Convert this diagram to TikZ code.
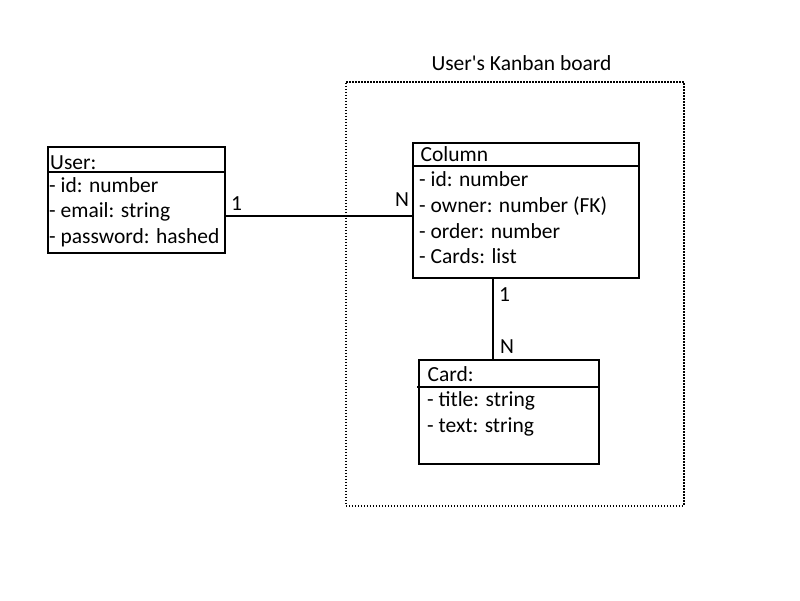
\documentclass[tikz,border=0pt]{standalone}
\usepackage{fontspec}
\setmainfont{Carlito}
\newfontfamily\plaincarlito{Carlito}[Ligatures=TeXOff]
\begin{document}
\begin{tikzpicture}[x=1pt,y=-1pt,
  box/.style={draw, line width=2pt, anchor=north west, inner sep=0pt},
  sep/.style={line width=1.2pt},
  txt/.style={anchor=base west, inner sep=0pt, font=\fontsize{21.5}{26}\selectfont},
  lbl/.style={anchor=base west, inner sep=0pt, font=\fontsize{21.5}{26}\selectfont},
  link/.style={line width=1.8pt},
  group/.style={draw, line width=1.5pt, dash pattern=on 1.5pt off 1.5pt, anchor=north west, inner sep=0pt}]
\useasboundingbox (0,0) rectangle (800,600);
% container
\node[group, minimum width=338pt, minimum height=424pt] (board) at (345,81) {};
\node[anchor=base, inner sep=0pt, font=\plaincarlito\fontsize{21.5}{26}\selectfont] (boardtitle) at (521.5,70) {User's Kanban board};
% User
\node[box, minimum width=177pt, minimum height=106pt] (user) at (47,146) {};
\draw[sep] (47,172) -- (224,172);
\node[txt] (u0) at (50,169) {User:};
\node[txt] (u1) at (49,192) {- id: number};
\node[txt] (u2) at (49,217.5) {- email: string};
\node[txt] (u3) at (49,243) {- password: hashed};
% Column
\node[box, minimum width=226pt, minimum height=135pt] (column) at (412,142) {};
\draw[sep] (412,166) -- (640,166);
\node[txt] (c0) at (420.5,161) {Column};
\node[txt] (c1) at (419,186.5) {- id: number};
\node[txt] (c2) at (419,212) {- owner: number (FK)};
\node[txt] (c3) at (419,238) {- order: number};
\node[txt] (c4) at (419,263.5) {- Cards: list};
% Card
\node[box, minimum width=180pt, minimum height=104pt] (card) at (418,359) {};
\draw[sep] (417,387) -- (598,387);
\node[txt] (k0) at (427.5,381) {Card:};
\node[txt] (k1) at (427,406.5) {- title: string};
\node[txt] (k2) at (427,432) {- text: string};
% connectors
\coordinate (ua) at (224,216);
\coordinate (ca) at (412,216);
\draw[link] (ua) -- (ca);
\node[lbl] (one1) at (231,210) {1};
\node[lbl] (n1) at (395,206) {N};
\coordinate (cb) at (493,277);
\coordinate (kb) at (493,359);
\draw[link] (cb) -- (kb);
\node[lbl] (one2) at (499,301) {1};
\node[lbl] (n2) at (500,353) {N};
\end{tikzpicture}
\end{document}
